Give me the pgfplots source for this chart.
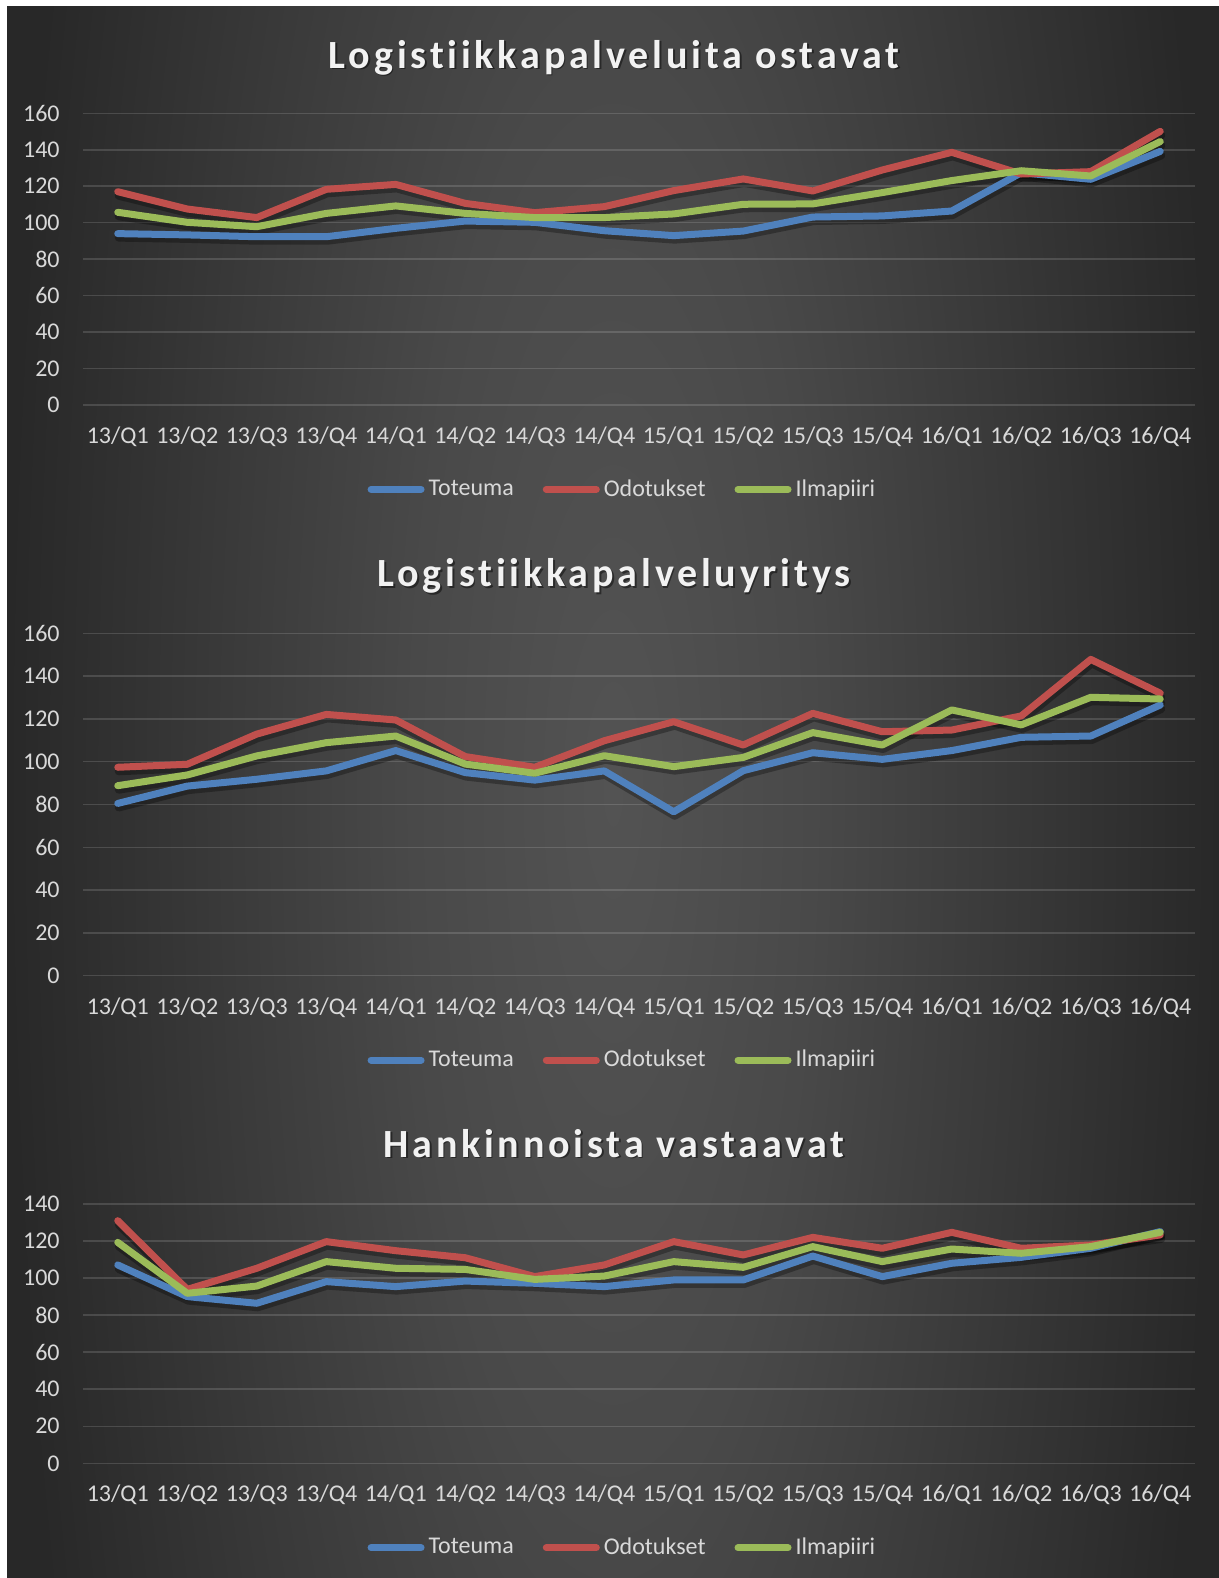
\documentclass[border=0pt]{standalone}
\usepackage{fontspec}
\setmainfont{Carlito}
\usepackage{pgfplots}
\pgfplotsset{compat=1.18}
\usepackage{pgfplotstable}

\definecolor{cT}{HTML}{4F81BD}
\definecolor{cO}{HTML}{C0504D}
\definecolor{cI}{HTML}{9BBB59}
\definecolor{txt}{HTML}{D9D9D9}
\definecolor{ttl}{HTML}{F2F2F2}
\definecolor{bgA}{HTML}{535353}
\definecolor{bgB}{HTML}{494949}
\definecolor{bgC}{HTML}{393939}
\definecolor{bgD}{HTML}{282828}
\pgfdeclareradialshading{bgshade}{\pgfpoint{0bp}{0bp}}{color(0bp)=(bgA); color(8.25bp)=(bgB); color(16.5bp)=(bgC); color(25bp)=(bgD); color(50bp)=(bgD)}

\pgfplotstableread{
i T O I
0 94.0 117.0 105.7
1 93.3 107.5 100.2
2 92.3 102.8 97.8
3 92.3 118.3 105.1
4 96.9 121.0 109.2
5 100.9 110.6 105.1
6 100.2 105.5 102.8
7 95.6 108.8 102.8
8 92.9 117.6 104.8
9 95.4 124.0 110.1
10 103.1 117.4 110.3
11 103.7 128.9 116.5
12 106.4 138.6 123.1
13 127.4 126.7 128.5
14 123.8 128.0 125.6
15 139.1 150.1 144.5
}\dataA

\pgfplotstableread{
i T O I
0 80.5 97.4 88.8
1 88.6 98.8 93.8
2 91.8 112.9 102.7
3 95.7 122.1 108.9
4 105.2 119.5 112.0
5 94.9 102.4 98.9
6 91.4 97.4 94.6
7 95.7 109.8 102.8
8 76.6 118.7 97.7
9 95.8 107.8 102.0
10 104.2 122.6 113.6
11 101.1 114.0 107.8
12 105.2 114.8 124.2
13 111.4 121.4 117.2
14 112.0 147.8 130.1
15 126.5 132.0 129.3
}\dataB

\pgfplotstableread{
i T O I
0 107.1 131.0 119.3
1 90.0 93.9 91.8
2 86.4 105.3 95.7
3 98.1 119.7 108.9
4 95.4 114.8 105.3
5 98.4 111.0 104.7
6 97.2 100.8 99.3
7 95.4 107.1 101.1
8 99.0 119.7 108.9
9 99.0 112.5 105.8
10 111.9 122.0 117.0
11 100.8 116.1 108.9
12 108.0 124.7 115.7
13 111.2 116.1 113.4
14 116.1 117.9 117.0
15 125.1 123.3 124.7
}\dataC

\pgfplotsset{
  chart/.style={
    scale only axis, width=556pt,
    xmin=-0.5, xmax=15.5, ymin=0,
    xtick={0,...,15},
    xticklabels={13/Q1,13/Q2,13/Q3,13/Q4,14/Q1,14/Q2,14/Q3,14/Q4,15/Q1,15/Q2,15/Q3,15/Q4,16/Q1,16/Q2,16/Q3,16/Q4},
    ytick distance=20,
    axis line style={draw=none},
    major tick length=0pt,
    tick style={draw=none},
    ymajorgrids,
    grid style={white, opacity=0.14, line width=0.75pt},
    tick label style={font=\fontsize{12}{14.4}\selectfont, text=txt},
    /pgf/number format/assume math mode=true,
    yticklabel style={anchor=east, inner sep=0pt, xshift=-11.5pt},
    xticklabel style={anchor=base, inner sep=0pt, yshift=-19.15pt},
    legend columns=3,
    legend style={at={(0.486,0)}, anchor=center, yshift=-42.2pt, draw=none, fill=none,
      font=\fontsize{12}{14.4}\selectfont, text=txt,
      /tikz/every even column/.append style={column sep=12.5pt}},
    legend image code/.code={\draw[#1, line width=3.5pt, line cap=round] (1.75pt,0pt) -- (26.75pt,0pt);},
    clip=false,
  },
  ser/.style={line width=3.5pt, line cap=round, line join=round, no markers},
  shd/.style={black, opacity=0.3, line width=4pt, line cap=round, line join=round, no markers, yshift=-2pt, xshift=0.5pt, forget plot},
}

\newcommand\ttlfont{\fontsize{20}{24}\selectfont\bfseries\addfontfeature{LetterSpace=9.5,Ligatures=NoCommon}}

\begin{document}
\begin{tikzpicture}
\useasboundingbox (0pt,0pt) rectangle (609.5pt,-789pt);
\fill[white] (0pt,0pt) rectangle (609.5pt,-789pt);
\begin{scope}
\clip (3.5pt,-3.5pt) rectangle (609.5pt,-789pt);
\shade[shading=bgshade] (3.5pt,700pt) rectangle (609.5pt,-1490pt);
\end{scope}

% titles
\node[anchor=base, font=\ttlfont, text=black, opacity=0.45] at (307.8pt,-35.0pt) {Logistiikkapalveluita ostavat};
\node[anchor=base, font=\ttlfont, text=ttl] at (307pt,-34.15pt) {Logistiikkapalveluita ostavat};
\node[anchor=base, font=\ttlfont, text=black, opacity=0.45] at (307.8pt,-294.2pt) {Logistiikkapalveluyritys};
\node[anchor=base, font=\ttlfont, text=ttl] at (307pt,-293.35pt) {Logistiikkapalveluyritys};
\node[anchor=base, font=\ttlfont, text=black, opacity=0.45] at (307.8pt,-579.35pt) {Hankinnoista vastaavat};
\node[anchor=base, font=\ttlfont, text=ttl] at (307pt,-578.5pt) {Hankinnoista vastaavat};

% chart 1
\begin{axis}[chart, at={(41.5pt,-202.5pt)}, anchor=south west, height=145.85pt, ymax=160]
\addplot[shd] table[x=i,y=T]{\dataA};
\addplot[shd] table[x=i,y=O]{\dataA};
\addplot[shd] table[x=i,y=I]{\dataA};
\addplot[ser, cT] table[x=i,y=T]{\dataA};
\addplot[ser, cO] table[x=i,y=O]{\dataA};
\addplot[ser, cI] table[x=i,y=I]{\dataA};
\legend{Toteuma,Odotukset,Ilmapiiri}
\end{axis}

% chart 2
\begin{axis}[chart, at={(41.5pt,-487.85pt)}, anchor=south west, height=171.2pt, ymax=160]
\addplot[shd] table[x=i,y=T]{\dataB};
\addplot[shd] table[x=i,y=O]{\dataB};
\addplot[shd] table[x=i,y=I]{\dataB};
\addplot[ser, cT] table[x=i,y=T]{\dataB};
\addplot[ser, cO] table[x=i,y=O]{\dataB};
\addplot[ser, cI] table[x=i,y=I]{\dataB};
\legend{Toteuma,Odotukset,Ilmapiiri}
\end{axis}

% chart 3
\begin{axis}[chart, at={(41.5pt,-731.65pt)}, anchor=south west, height=129.65pt, ymax=140]
\addplot[shd] table[x=i,y=T]{\dataC};
\addplot[shd] table[x=i,y=O]{\dataC};
\addplot[shd] table[x=i,y=I]{\dataC};
\addplot[ser, cT] table[x=i,y=T]{\dataC};
\addplot[ser, cO] table[x=i,y=O]{\dataC};
\addplot[ser, cI] table[x=i,y=I]{\dataC};
\legend{Toteuma,Odotukset,Ilmapiiri}
\end{axis}
\end{tikzpicture}
\end{document}
